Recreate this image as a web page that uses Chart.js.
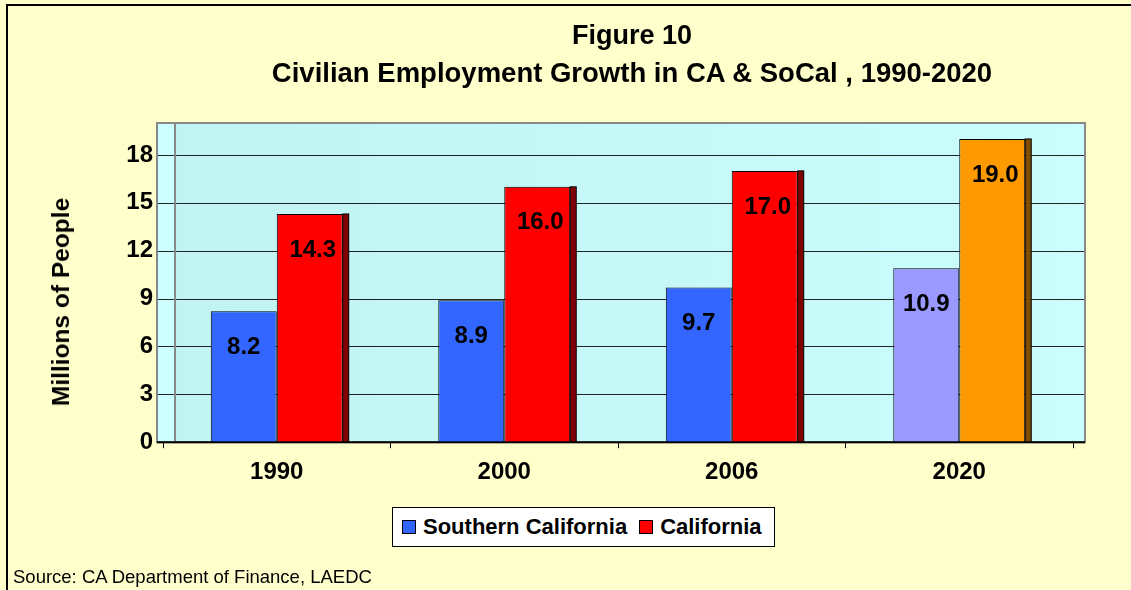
<!DOCTYPE html>
<html>
<head>
<meta charset="utf-8">
<script src="https://cdn.jsdelivr.net/npm/chart.js@4/dist/chart.umd.min.js"></script>
<style>
  html, body { margin: 0; padding: 0; background: #FFFFCC; }
  #wrap { position: relative; width: 1131px; height: 590px; overflow: hidden; font-family: "Liberation Sans", Arial, sans-serif; }
  #frame { position: absolute; left: 6px; top: 4px; right: -4px; bottom: -4px; border-top: 2px solid #000; border-left: 2px solid #000; }
  #chartBox { position: absolute; left: 0; top: 0; width: 1131px; height: 590px; }
  .title { position: absolute; left: 632px; transform: translateX(-50%); text-align: center; font-weight: bold; color: #000; white-space: nowrap; }
  #ytitle { position: absolute; left: 61px; top: 302px; transform: translate(-50%, -50%) rotate(-90deg); font-weight: bold; font-size: 24.5px; white-space: nowrap; }
  #legend { position: absolute; left: 392px; top: 507px; width: 381px; height: 38px; background: #fff; border: 1px solid #000; display: flex; align-items: center; font-weight: bold; font-size: 22px; }
  #legend .sw { display: inline-block; width: 12px; height: 12px; border: 1px solid #000; margin: 0 7px 0 0; }
  #source { position: absolute; left: 13px; top: 566px; font-size: 18.5px; white-space: nowrap; }
</style>
</head>
<body>
<div id="wrap">
  <div id="frame"></div>
  <div id="chartBox"><canvas id="chart"></canvas></div>
  <div class="title" style="top:20px;font-size:27px">Figure 10</div>
  <div class="title" style="top:57px;font-size:27.5px">Civilian Employment Growth in CA &amp; SoCal , 1990-2020</div>
  <div id="ytitle">Millions of People</div>
  <div id="legend">
    <span class="sw" style="background:#3366FF;margin-left:9px"></span><span>Southern California</span>
    <span class="sw" style="background:#FF0000;margin-left:12px"></span><span>California</span>
  </div>
  <div id="source">Source: CA Department of Finance, LAEDC</div>
</div>
<script>
// данные с картинки
const years = ['1990', '2000', '2006', '2020'];
const socal = [8.2, 8.9, 9.7, 10.9];
const california = [14.3, 16.0, 17.0, 19.0];
const yMax = 20;
const yStep = 3;
const yLastTick = 18;

const socalColors = ['#3366FF', '#3366FF', '#3366FF', '#9999FF'];
const caColors = ['#FF0000', '#FF0000', '#FF0000', '#FF9900'];
const caSideColors = ['#800000', '#800000', '#800000', '#7F4C00'];

const FONT = '"Liberation Sans", Arial, sans-serif';

// фон, стенка и сетка
const wallPlugin = {
    id: 'wall',
    beforeDatasetsDraw(chart) {
        const { ctx, chartArea: a, scales: { y } } = chart;
        const L = a.left - 6, R = a.right + 12, T = a.top, B = a.bottom;
        ctx.save();
        const g = ctx.createLinearGradient(L, 0, R, 0);
        g.addColorStop(0, '#C2F3F3');
        g.addColorStop(1, '#CAFDFD');
        ctx.fillStyle = g;
        ctx.fillRect(L, T, R - L, B - T);
        ctx.fillStyle = '#CCFFFF';
        ctx.fillRect(L, T, 18, B - T);

        ctx.lineWidth = 1;
        ctx.strokeStyle = '#222';
        y.ticks.forEach(t => {
            if (t.value === 0) return;
            const py = Math.round(y.getPixelForValue(t.value)) + 0.5;
            ctx.beginPath();
            ctx.moveTo(L, py);
            ctx.lineTo(R, py);
            ctx.stroke();
        });
        // линия стенки
        ctx.strokeStyle = '#888';
        ctx.lineWidth = 2;
        ctx.beginPath();
        ctx.moveTo(L + 18, T);
        ctx.lineTo(L + 18, B);
        ctx.stroke();
        // рамка
        ctx.strokeRect(L, T, R - L, B - T);
        ctx.restore();
    },
    afterDatasetsDraw(chart) {
        const { ctx, chartArea: a } = chart;
        const L = a.left - 6, R = a.right + 12, B = a.bottom;
        ctx.save();
        // боковые грани красных/оранжевых столбцов
        const caMeta = chart.getDatasetMeta(1);
        caMeta.data.forEach((bar, i) => {
            const x = bar.x + bar.width / 2;
            ctx.fillStyle = caSideColors[i];
            ctx.fillRect(x, bar.y, 6, bar.base - bar.y);
            ctx.strokeStyle = '#000';
            ctx.lineWidth = 1;
            ctx.strokeRect(x, bar.y, 6, bar.base - bar.y);
        });
        // ось X
        ctx.strokeStyle = '#000';
        ctx.lineWidth = 2;
        ctx.beginPath();
        ctx.moveTo(L, B);
        ctx.lineTo(R, B);
        ctx.stroke();
        // подписи значений
        ctx.fillStyle = '#000';
        ctx.font = 'bold 24px ' + FONT;
        ctx.textAlign = 'center';
        ctx.textBaseline = 'middle';
        [0, 1].forEach(di => {
            const meta = chart.getDatasetMeta(di);
            const vals = di === 0 ? socal : california;
            meta.data.forEach((bar, i) => {
                ctx.fillText(vals[i].toFixed(1), bar.x + (di === 1 ? 3 : 0), bar.y + 36);
            });
        });
        ctx.restore();
    }
};

const ctx = document.getElementById('chart').getContext('2d');
new Chart(ctx, {
    type: 'bar',
    data: {
        labels: years,
        datasets: [
            {
                label: 'Southern California',
                data: socal,
                backgroundColor: socalColors,
                borderColor: '#000',
                borderWidth: 1
            },
            {
                label: 'California',
                data: california,
                backgroundColor: caColors,
                borderColor: '#000',
                borderWidth: 1
            }
        ]
    },
    options: {
        responsive: true,
        maintainAspectRatio: false,
        animation: false,
        layout: { padding: { left: 0, right: 58, top: 123, bottom: 93 } },
        categoryPercentage: 0.58,
        barPercentage: 1.0,
        scales: {
            x: {
                grid: { display: true, drawOnChartArea: false, drawTicks: true, tickLength: 6, color: '#000', offset: true },
                border: { display: false },
                ticks: { color: '#000', padding: 10, font: { family: FONT, size: 24, weight: 'bold' } }
            },
            y: {
                min: 0,
                max: yMax,
                afterFit: s => { s.width = 163; },
                afterBuildTicks: s => { s.ticks = s.ticks.filter(t => t.value <= yLastTick); },
                grid: { display: false, drawTicks: false },
                border: { display: false },
                ticks: { stepSize: yStep, color: '#000', padding: 10, font: { family: FONT, size: 24, weight: 'bold' } }
            }
        },
        plugins: {
            legend: { display: false },
            title: { display: false },
            tooltip: { enabled: false }
        }
    },
    plugins: [wallPlugin]
});
</script>
</body>
</html>
